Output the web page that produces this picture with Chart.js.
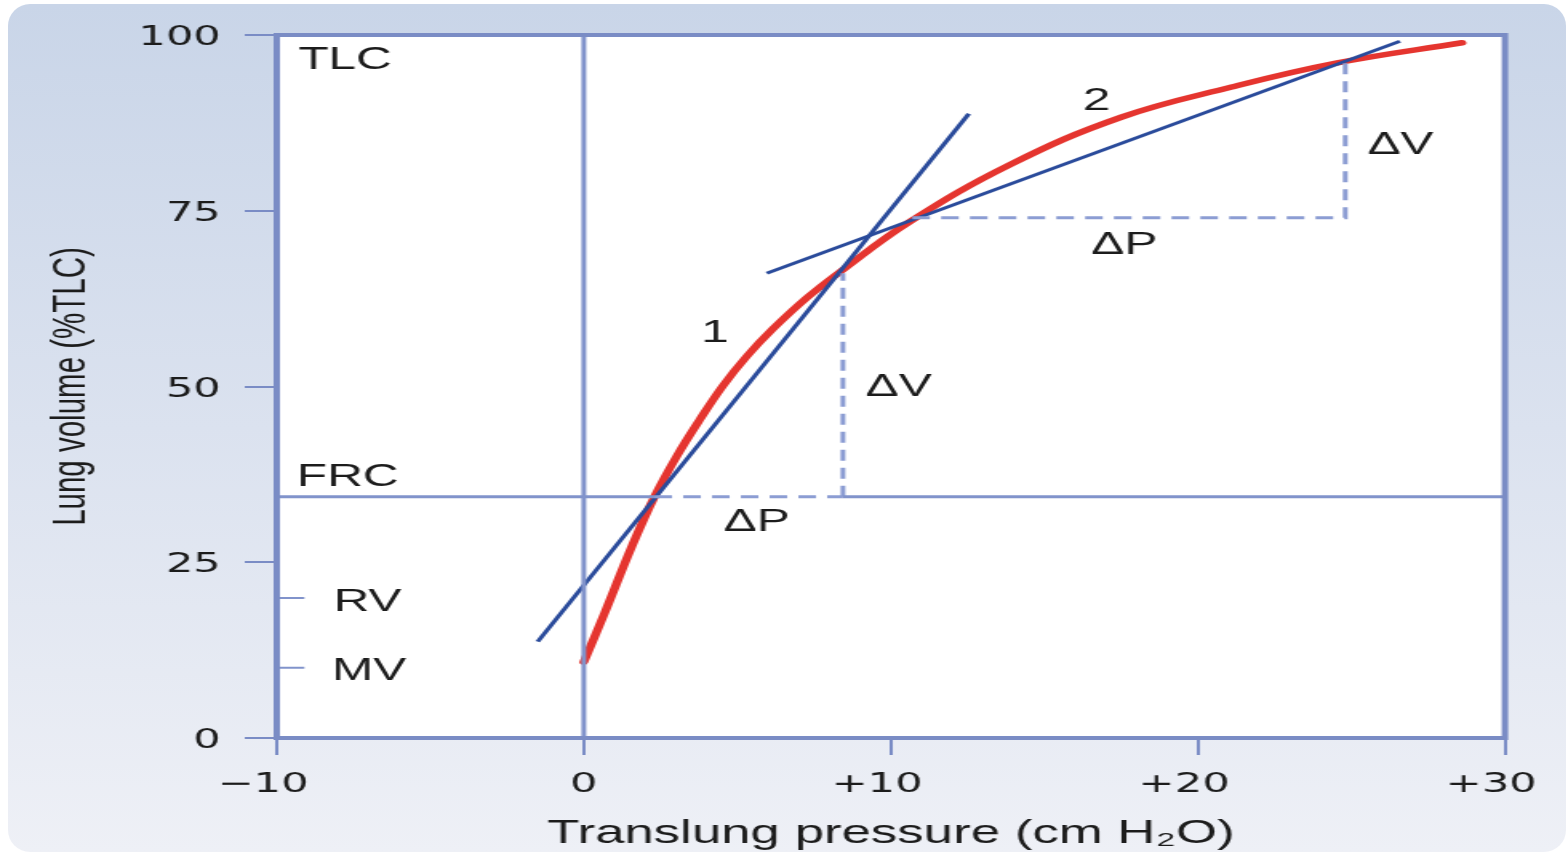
<!DOCTYPE html>
<html>
<head>
<meta charset="utf-8">
<title>Lung compliance</title>
<script src="https://cdn.jsdelivr.net/npm/chart.js@4.4.1/dist/chart.umd.min.js"></script>
<style>
  html, body { margin: 0; padding: 0; background: #fff; overflow: hidden; width: 1568px; height: 854px; }
  #card {
    position: absolute; left: 8px; top: 4px; width: 1558px; height: 848px;
    border-radius: 22px;
    background: linear-gradient(to bottom, #c9d5e8 0%, #dbe2ef 50%, #eef0f6 100%);
  }
  #chart { position: absolute; left: 0; top: 0; }
</style>
</head>
<body>
<div id="card"></div>
<!-- the original figure is stretched sideways, so the canvas is too -->
<canvas id="chart" width="980" height="854" style="width:1568px;height:854px"></canvas>
<script>
// pressure-volume curve (cm H2O -> %TLC)
const curveP = [0, 0.68, 1.56, 2.3, 3.03, 3.78, 4.53, 5.31, 6.16, 7.26, 8.34, 10.6, 13.9, 17.5, 21.1, 24.5, 28.6];
const curveV = [10.8, 17.8, 27.2, 34.3, 40.1, 45.3, 50.1, 54.3, 58.2, 62.6, 66.3, 73.4, 81.6, 88.3, 92.6, 96.0, 98.9];

// the two tangent lines (end points)
const tangent1P = [-1.5, 12.54];
const tangent1V = [13.7, 88.8];
const tangent2P = [5.96, 26.58];
const tangent2V = [66.1, 99.1];

// reference levels
const frcVolume = 34.3;
const rvVolume = 19.9;
const mvVolume = 10.0;

// delta triangles
const dv1P = [8.44, 8.44];
const dv1V = [frcVolume, 66.1];
const frcP = [-10, 2.3, 8.44, 30];
const box2P = [10.7, 24.8, 24.8];
const box2V = [74.0, 74.0, 96.2];

// figure space after signed labels keeps the digits centred on the tick
const xTicks = ["\u221210\u2007", "0", "+10\u2007", "+20\u2007", "+30\u2007"];

// labels placed in data units
const labels = [
  { text: "TLC", x: -9.3, y: 96.7, align: "left" },
  { text: "FRC", x: -9.35, y: 37.4, align: "left" },
  { text: "RV", x: -8.15, y: 19.6, align: "left" },
  { text: "MV", x: -8.2, y: 9.7, align: "left" },
  { text: "1", x: 4.27, y: 57.8, align: "center" },
  { text: "2", x: 16.7, y: 90.9, align: "center" },
  { text: "\u0394V", x: 10.26, y: 50.2, align: "center" },
  { text: "\u0394P", x: 5.63, y: 31.0, align: "center" },
  { text: "\u0394V", x: 26.6, y: 84.6, align: "center" },
  { text: "\u0394P", x: 17.6, y: 70.4, align: "center" }
];

const frameColor = "#7a8cc5";
const refColor = "#8193cb";
const dashColor = "#8c9dd3";
const blue = "#2a4b9b";
const red = "#e5352f";

function pts(xs, ys) {
  return xs.map((x, i) => ({ x: x, y: ys[i] }));
}

const plotFrame = {
  id: "plotFrame",
  beforeDatasetsDraw(chart) {
    const { ctx, chartArea: a } = chart;
    ctx.save();
    ctx.fillStyle = "#ffffff";
    ctx.fillRect(a.left, a.top, a.right - a.left, a.bottom - a.top);
    ctx.restore();
  },
  afterDatasetsDraw(chart) {
    const { ctx, chartArea: a, scales } = chart;
    ctx.save();
    ctx.strokeStyle = frameColor;
    ctx.lineWidth = 4;
    ctx.strokeRect(a.left, a.top, a.right - a.left, a.bottom - a.top);

    ctx.fillStyle = "#1c1c1c";
    ctx.font = "31px 'Liberation Sans', Arial, sans-serif";
    ctx.textBaseline = "middle";
    labels.forEach(l => {
      ctx.textAlign = l.align;
      ctx.fillText(l.text, scales.x.getPixelForValue(l.x), scales.y.getPixelForValue(l.y) + 2);
    });
    ctx.restore();
  }
};

const line = (data, color, width, extra) => Object.assign({
  data: data,
  showLine: true,
  borderColor: color,
  borderWidth: width,
  pointRadius: 0,
  fill: false
}, extra || {});

new Chart(document.getElementById("chart"), {
  type: "scatter",
  data: {
    datasets: [
      line([{ x: 0, y: 0 }, { x: 0, y: 100 }], refColor, 3),
      line(pts(frcP, frcP.map(() => frcVolume)), refColor, 3, {
        segment: {
          borderDash: c => (c.p0DataIndex === 1 ? [11, 7] : undefined),
          borderColor: c => (c.p0DataIndex === 1 ? dashColor : refColor)
        }
      }),
      line([{ x: -10, y: rvVolume }, { x: -9.1, y: rvVolume }], refColor, 2),
      line([{ x: -10, y: mvVolume }, { x: -9.1, y: mvVolume }], refColor, 2),
      line(pts(dv1P, dv1V), dashColor, 3, { borderDash: [11, 7] }),
      line(pts(box2P, box2V), dashColor, 3, { borderDash: [11, 7] }),
      line(pts(tangent1P, tangent1V), blue, 3),
      line(pts(tangent2P, tangent2V), blue, 3),
      line(pts(curveP, curveV), red, 5.5, { tension: 0.4, borderCapStyle: "round" })
    ]
  },
  options: {
    responsive: false,
    animation: false,
    layout: { padding: { top: 35, right: 39.4, left: 0, bottom: 0 } },
    plugins: {
      legend: { display: false },
      tooltip: { enabled: false }
    },
    scales: {
      x: {
        type: "linear",
        min: -10,
        max: 30,
        afterFit: s => { s.height = 116; s.paddingLeft = 0; s.paddingRight = 0; },
        border: { display: false },
        grid: { drawOnChartArea: false, tickLength: 17, color: frameColor, lineWidth: 2 },
        ticks: {
          stepSize: 10,
          padding: 14,
          color: "#1c1c1c",
          font: { family: "'DejaVu Sans'", size: 27 },
          callback: (v, i) => xTicks[i]
        },
        title: {
          display: true,
          text: "Translung pressure (cm H\u2082O)",
          color: "#1c1c1c",
          font: { family: "'Liberation Sans', Arial", size: 33 },
          padding: { top: 0, bottom: 0 }
        }
      },
      y: {
        type: "linear",
        min: 0,
        max: 100,
        afterFit: s => { s.width = 173; s.paddingTop = 0; s.paddingBottom = 0; },
        border: { display: false },
        grid: { drawOnChartArea: false, tickLength: 20, color: frameColor, lineWidth: 2 },
        ticks: {
          stepSize: 25,
          padding: 15,
          labelOffset: 3,
          color: "#1c1c1c",
          font: { family: "'DejaVu Sans'", size: 27 }
        },
        title: {
          display: true,
          text: "Lung volume (%TLC)",
          color: "#1c1c1c",
          font: { family: "'Liberation Sans', Arial", size: 29.5 },
          padding: { top: 27, bottom: 0 }
        }
      }
    }
  },
  plugins: [plotFrame]
});
</script>
</body>
</html>
